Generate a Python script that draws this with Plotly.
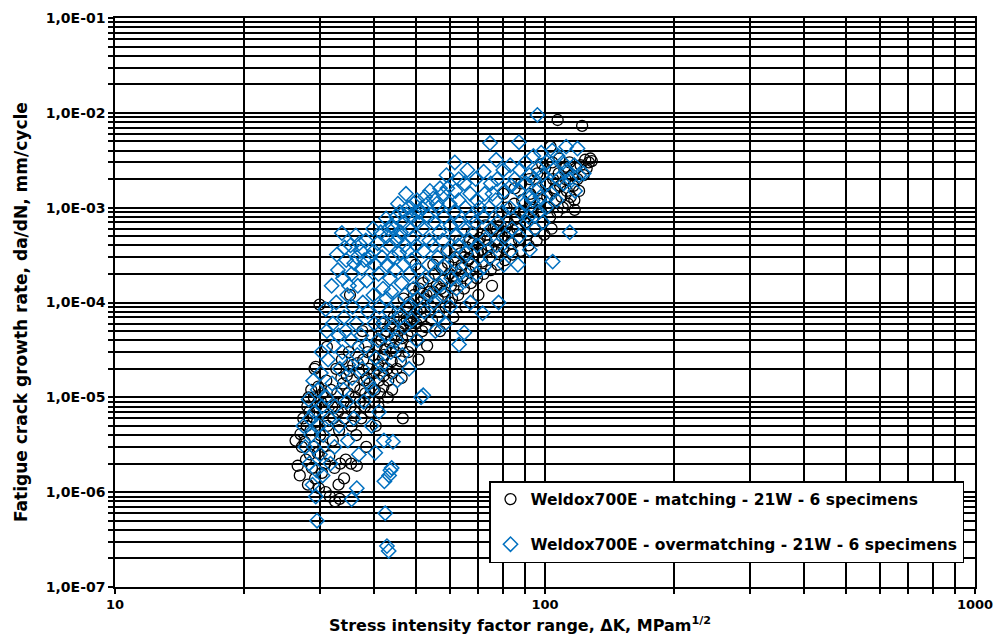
import plotly.graph_objects as go

# ---- Weldox700E matching (black circles) ----
matching_dk = [
    26.3, 26.6, 27.0, 27.2, 26.9, 27.4,
    27.6, 27.8, 28.0, 27.9, 28.2, 28.1,
    28.3, 28.5, 28.4, 28.7, 28.6, 28.9,
    29.0, 29.2, 29.1, 29.3, 29.0, 29.4,
    29.5, 29.6, 29.8, 29.9, 29.7, 30.1,
    30.0, 30.3, 30.4, 30.6, 30.5, 30.8,
    30.9, 31.1, 31.0, 31.3, 31.2, 31.5,
    31.6, 31.8, 32.0, 32.2, 32.1, 32.4,
    32.5, 32.7, 32.9, 33.0, 33.2, 33.1,
    33.4, 33.3, 33.7, 33.9, 34.0, 34.2,
    34.1, 34.4, 34.6, 35.0, 35.2, 34.9,
    35.3, 35.5, 35.4, 35.8, 36.0, 36.2,
    36.1, 36.5, 36.4, 36.8, 37.0, 37.2,
    37.1, 37.4, 37.6, 37.8, 38.0, 38.2,
    38.1, 38.4, 38.7, 38.9, 39.1, 39.0,
    39.3, 39.5, 39.8, 40.0, 40.2, 40.1,
    40.4, 40.6, 40.9, 41.1, 41.3, 41.0,
    41.6, 41.8, 42.0, 42.2, 42.1, 42.5,
    42.8, 43.0, 43.2, 43.1, 43.5, 43.7,
    44.0, 44.2, 44.1, 44.5, 44.7, 45.0,
    45.2, 45.4, 45.7, 46.0, 46.2, 46.4,
    46.7, 46.9, 47.1, 47.5, 47.7, 47.9,
    48.1, 48.3, 48.6, 48.8, 49.0, 49.3,
    49.6, 50.0, 50.3, 50.2, 50.5, 50.8,
    51.0, 51.3, 51.5, 51.8, 52.0, 52.3,
    52.5, 52.8, 53.2, 53.6, 54.0, 54.3,
    54.6, 55.0, 55.5, 56.0, 56.3, 56.7,
    57.0, 57.5, 58.0, 58.3, 58.7, 59.0,
    59.5, 60.0, 60.4, 60.8, 61.2, 61.6,
    62.0, 62.4, 62.8, 63.2, 63.6, 64.0,
    64.4, 64.8, 65.3, 65.8, 66.3, 66.8,
    67.2, 67.6, 68.0, 68.5, 69.0, 69.5,
    70.0, 70.5, 71.0, 71.5, 72.0, 72.6,
    73.2, 73.8, 74.3, 74.8, 75.3, 75.9,
    76.5, 77.0, 77.6, 78.2, 78.8, 79.4,
    80.0, 80.7, 81.4, 82.0, 82.7, 83.4,
    84.0, 84.8, 85.5, 86.2, 87.0, 87.8,
    88.5, 89.3, 90.0, 90.8, 91.6, 92.4,
    93.2, 94.0, 94.8, 95.6, 96.4, 97.2,
    98.0, 98.8, 99.6, 100.4, 101.2, 102.0,
    102.8, 103.0, 103.6, 104.4, 105.2, 106.0,
    106.8, 107.0, 107.6, 108.4, 109.2, 110.0,
    110.8, 111.6, 112.4, 113.2, 114.0, 114.8,
    115.6, 116.4, 117.2, 118.0, 119.0, 120.0,
    121.0, 122.0, 123.0, 124.0, 125.0, 126.5,
    127.5, 128.5, 96.0, 92.0, 88.0, 85.0,
    100.0, 104.0, 108.0, 112.0, 117.0, 98.5,
    60.0, 65.0, 70.0, 75.0, 80.0, 55.0,
    33.6, 35.1, 36.7, 38.5, 40.7, 42.3,
    44.3, 46.5, 48.5, 51.2, 53.0, 57.3,
    61.0, 63.8, 66.5, 69.8, 73.5, 77.3,
    81.0, 85.2, 89.0, 93.6, 97.8, 105.6,
]
matching_rate = [
    3.5e-6, 1.9e-6, 4.1e-6, 3.0e-6, 1.5e-6, 6.0e-6,
    3.4e-6, 2.2e-6, 8.0e-6, 5.0e-6, 1.0e-5, 1.2e-6,
    7.0e-6, 4.5e-6, 2.5e-6, 1.8e-6, 1.2e-5, 6.2e-6,
    3.0e-6, 1.4e-6, 2.0e-5, 2.1e-5, 1.0e-5, 8.0e-6,
    5.5e-6, 2.6e-6, 1.1e-6, 9.5e-5, 1.3e-5, 9.0e-6,
    4.0e-6, 1.6e-6, 1.1e-5, 7.0e-6, 3.0e-6, 2.0e-6,
    1.0e-6, 3.4e-5, 1.5e-5, 9.0e-6, 5.0e-6, 2.4e-6,
    9.0e-7, 1.2e-5, 8.0e-6, 6.0e-6, 3.5e-6, 1.8e-6,
    8.0e-7, 2.0e-5, 1.1e-5, 7.0e-6, 4.5e-6, 1.2e-6,
    2.0e-6, 8.5e-7, 2.5e-5, 1.4e-5, 9.0e-6, 6.0e-6,
    1.4e-6, 2.2e-6, 1.7e-5, 3.0e-5, 1.2e-4, 1.1e-5,
    8.0e-6, 5.0e-6, 2.0e-6, 2.2e-5, 1.3e-5, 1.0e-5,
    7.0e-6, 1.9e-6, 4.0e-6, 3.4e-5, 1.8e-5, 1.2e-5,
    9.0e-6, 6.0e-6, 5.0e-5, 2.5e-5, 1.5e-5, 1.1e-5,
    8.0e-6, 3.0e-6, 3.0e-5, 2.0e-5, 1.4e-5, 1.0e-5,
    7.0e-6, 4.5e-5, 2.8e-5, 1.8e-5, 1.2e-5, 9.0e-6,
    5.0e-6, 3.5e-5, 2.2e-5, 1.5e-5, 1.1e-5, 8.0e-6,
    4.0e-5, 6.0e-5, 2.6e-5, 1.7e-5, 1.3e-5, 3.2e-5,
    5.0e-5, 2.0e-5, 1.5e-5, 1.0e-5, 3.8e-5, 6.0e-5,
    2.4e-5, 1.8e-5, 1.2e-5, 7.0e-5, 4.5e-5, 3.0e-5,
    2.0e-5, 8.0e-5, 5.0e-5, 3.5e-5, 2.4e-5, 1.6e-5,
    6.0e-6, 1.1e-4, 6.0e-5, 9.0e-5, 6.5e-5, 4.5e-5,
    3.0e-5, 1.0e-4, 7.0e-5, 5.0e-5, 3.5e-5, 1.4e-4,
    1.2e-4, 2.5e-4, 8.0e-5, 6.0e-5, 4.0e-5, 2.5e-5,
    1.4e-4, 1.0e-4, 7.0e-5, 5.0e-5, 1.6e-4, 1.1e-4,
    8.0e-5, 5.5e-5, 3.5e-5, 1.8e-4, 1.3e-4, 9.0e-5,
    6.5e-5, 2.5e-4, 2.0e-4, 1.5e-4, 1.1e-4, 8.0e-5,
    5.0e-5, 2.3e-4, 1.7e-4, 1.3e-4, 9.0e-5, 3.5e-4,
    2.6e-4, 2.0e-4, 1.5e-4, 1.1e-4, 7.0e-5, 3.0e-4,
    2.2e-4, 1.7e-4, 1.2e-4, 4.5e-4, 3.3e-4, 2.5e-4,
    1.9e-4, 1.4e-4, 9.0e-5, 3.8e-4, 2.8e-4, 2.1e-4,
    1.6e-4, 5.5e-4, 4.2e-4, 3.2e-4, 2.4e-4, 1.8e-4,
    1.2e-4, 4.8e-4, 3.6e-4, 2.7e-4, 2.0e-4, 6.5e-4,
    5.2e-4, 4.0e-4, 3.0e-4, 2.2e-4, 1.5e-4, 6.0e-4,
    4.5e-4, 3.4e-4, 2.5e-4, 8.0e-4, 6.5e-4, 5.0e-4,
    3.8e-4, 2.8e-4, 1.0e-3, 7.0e-4, 5.5e-4, 4.2e-4,
    3.2e-4, 1.1e-3, 8.0e-4, 6.0e-4, 4.6e-4, 3.5e-4,
    1.2e-3, 9.0e-4, 7.0e-4, 5.2e-4, 4.0e-4, 1.4e-3,
    1.0e-3, 8.0e-4, 6.0e-4, 4.5e-4, 1.6e-3, 1.1e-3,
    9.0e-4, 7.0e-4, 5.2e-4, 1.8e-3, 1.3e-3, 1.0e-3,
    8.0e-4, 4.4e-3, 6.0e-4, 2.0e-3, 1.5e-3, 1.2e-3,
    9.0e-4, 8.4e-3, 2.3e-3, 1.7e-3, 1.3e-3, 1.0e-3,
    2.6e-3, 2.0e-3, 1.5e-3, 1.1e-3, 3.0e-3, 1.3e-3,
    2.2e-3, 1.7e-3, 9.5e-4, 2.6e-3, 2.0e-3, 1.5e-3,
    2.8e-3, 7.3e-3, 2.2e-3, 3.2e-3, 2.6e-3, 3.0e-3,
    3.3e-3, 3.1e-3, 2.3e-3, 2.0e-3, 1.8e-3, 1.6e-3,
    2.6e-3, 3.0e-3, 3.3e-3, 2.7e-3, 1.2e-3, 2.9e-3,
    1.0e-4, 3.0e-4, 4.2e-4, 3.8e-4, 1.4e-3, 1.3e-4,
    1.6e-5, 1.9e-5, 2.3e-5, 1.6e-5, 2.0e-5, 2.8e-5,
    3.3e-5, 4.2e-5, 6.0e-5, 8.5e-5, 1.2e-4, 1.4e-4,
    1.9e-4, 2.3e-4, 2.9e-4, 3.4e-4, 3.6e-4, 5.8e-4,
    6.2e-4, 7.5e-4, 8.5e-4, 9.5e-4, 1.2e-3, 1.6e-3,
]

# ---- Weldox700E overmatching (blue diamonds) ----
over_dk = [
    27.4, 27.7, 28.2, 28.4, 28.6, 28.3,
    28.8, 28.9, 29.1, 29.0, 29.3, 29.5,
    29.4, 29.6, 29.8, 30.0, 30.2, 30.1,
    30.3, 30.5, 30.4, 30.9, 31.1, 31.3,
    31.0, 31.5, 31.7, 31.9, 32.1, 32.3,
    32.0, 32.5, 32.4, 32.8, 33.0, 32.7,
    33.1, 33.3, 33.2, 33.7, 33.9, 34.1,
    33.8, 34.0, 34.5, 34.7, 34.4, 34.9,
    34.6, 34.8, 35.3, 35.5, 35.7, 35.4,
    35.6, 35.5, 35.9, 36.3, 36.5, 36.7,
    36.4, 36.6, 36.5, 36.9, 37.3, 37.5,
    37.7, 37.4, 37.6, 37.9, 38.3, 38.5,
    38.7, 38.4, 38.9, 39.5, 39.8, 40.0,
    40.2, 39.9, 40.1, 40.4, 39.7, 40.3,
    40.8, 41.0, 41.2, 40.9, 41.3, 41.1,
    41.8, 42.0, 42.1, 41.9, 42.3, 42.2,
    42.7, 42.9, 43.0, 42.8, 42.6, 42.5,
    42.9, 43.3, 43.5, 43.6, 43.4, 43.8,
    43.4, 43.7, 44.0, 44.2, 43.9, 44.1,
    44.3, 44.0, 45.0, 45.2, 44.8, 45.4,
    45.1, 45.3, 46.0, 46.2, 45.8, 46.4,
    46.1, 46.6, 47.0, 47.2, 46.9, 47.3,
    47.1, 48.0, 48.2, 47.9, 48.4, 48.1,
    48.3, 49.0, 49.2, 48.9, 49.4, 49.1,
    50.4, 50.6, 50.2, 50.8, 50.5, 50.3,
    51.8, 52.0, 52.2, 51.9, 52.4, 52.1,
    53.3, 53.5, 53.8, 53.6, 54.0, 51.5,
    55.0, 55.2, 54.8, 55.4, 55.1, 55.6,
    56.5, 56.8, 56.3, 57.0, 56.6, 58.0,
    58.2, 57.8, 58.4, 58.1, 58.6, 60.0,
    60.3, 59.8, 60.5, 60.2, 61.7, 61.9,
    61.5, 62.0, 61.8, 62.2, 63.0, 63.3,
    62.8, 63.5, 63.1, 65.0, 65.3, 64.8,
    65.5, 65.2, 64.9, 67.0, 67.3, 66.8,
    67.5, 67.1, 69.0, 69.4, 68.8, 69.6,
    69.2, 72.0, 72.4, 71.8, 72.6, 72.2,
    71.6, 74.5, 74.8, 74.2, 75.0, 74.6,
    77.0, 77.4, 76.8, 77.6, 77.2, 78.0,
    80.0, 80.5, 79.6, 80.8, 80.2, 83.0,
    83.5, 82.8, 83.8, 83.2, 87.0, 87.4,
    86.8, 87.6, 87.2, 86.5, 90.0, 90.4,
    89.6, 90.8, 92.0, 92.4, 91.6, 92.2,
    94.0, 94.4, 93.6, 94.8, 96.0, 96.4,
    95.6, 96.8, 98.0, 98.5, 97.6, 98.8,
    101.0, 101.5, 100.6, 104.0, 104.5, 103.5,
    104.2, 107.0, 107.5, 106.5, 110.0, 110.5,
    112.0, 112.5, 114.0, 114.2, 117.0, 117.5,
    120.0, 123.0, 119.0, 70.5, 75.5, 85.0,
    63.0, 57.0, 51.0, 45.5, 38.0, 35.0,
    49.5, 54.0, 59.0, 66.0, 44.5, 47.5,
    34.2, 36.0, 37.0, 39.2, 41.5, 43.2,
    45.7, 47.6, 50.0, 52.6, 56.0, 59.3,
]
over_rate = [
    5.0e-6, 3.0e-6, 9.5e-6, 6.0e-6, 4.0e-6, 2.0e-6,
    1.2e-6, 1.5e-5, 7.0e-6, 3.0e-6, 9.0e-7, 5.0e-7,
    1.7e-6, 1.2e-5, 5.0e-6, 2.5e-6, 3.0e-5, 1.8e-5,
    8.0e-6, 4.0e-6, 1.5e-6, 8.5e-5, 5.0e-5, 2.5e-5,
    1.0e-5, 6.0e-6, 2.0e-6, 1.5e-4, 6.0e-5, 3.5e-5,
    1.4e-5, 8.0e-6, 3.0e-6, 3.2e-4, 2.2e-4, 1.0e-4,
    4.5e-5, 2.0e-5, 5.0e-6, 5.4e-4, 1.8e-4, 7.0e-5,
    3.0e-5, 1.2e-5, 2.8e-4, 1.2e-4, 5.0e-5, 2.2e-5,
    9.0e-6, 3.5e-6, 4.0e-4, 2.0e-4, 9.0e-5, 4.0e-5,
    1.6e-5, 8.4e-7, 6.0e-6, 5.1e-4, 3.0e-4, 1.5e-4,
    6.0e-5, 2.8e-5, 1.1e-6, 2.5e-6, 3.5e-4, 2.3e-4,
    1.0e-4, 4.5e-5, 2.0e-5, 9.0e-6, 4.5e-4, 1.7e-4,
    8.0e-5, 3.5e-5, 1.4e-5, 5.0e-6, 6.0e-4, 3.5e-4,
    2.5e-4, 1.2e-4, 6.0e-5, 2.6e-5, 1.2e-5, 2.6e-6,
    4.2e-4, 2.0e-4, 9.0e-5, 4.0e-5, 1.8e-5, 7.0e-6,
    3.0e-4, 1.4e-4, 6.0e-5, 2.2e-5, 1.3e-6, 3.5e-6,
    7.7e-4, 5.0e-4, 2.5e-4, 1.1e-4, 4.5e-5, 6.0e-7,
    2.7e-7, 2.4e-7, 4.0e-4, 1.8e-4, 8.0e-5, 3.0e-5,
    1.5e-6, 1.7e-6, 6.5e-4, 3.0e-4, 1.3e-4, 5.5e-5,
    3.4e-6, 1.8e-6, 8.0e-4, 4.5e-4, 2.2e-4, 1.0e-4,
    4.0e-5, 1.5e-5, 9.0e-4, 5.5e-4, 3.3e-4, 1.6e-4,
    7.0e-5, 2.8e-5, 7.0e-4, 4.0e-4, 2.5e-4, 1.2e-4,
    5.5e-5, 1.0e-3, 6.0e-4, 3.5e-4, 2.0e-4, 9.0e-5,
    2.0e-5, 8.0e-4, 4.8e-4, 2.8e-4, 1.4e-4, 6.5e-5,
    1.2e-3, 7.0e-4, 4.0e-4, 2.2e-4, 1.1e-4, 4.0e-5,
    1.0e-3, 6.0e-4, 3.5e-4, 1.7e-4, 8.0e-5, 1.05e-5,
    1.1e-3, 8.0e-4, 4.5e-4, 2.5e-4, 1.2e-4, 1.0e-5,
    1.25e-3, 7.0e-4, 4.0e-4, 2.0e-4, 1.0e-4, 5.0e-5,
    1.0e-3, 5.5e-4, 3.0e-4, 1.5e-4, 7.0e-5, 1.4e-3,
    8.0e-4, 4.5e-4, 2.4e-4, 1.2e-4, 6.0e-5, 1.1e-3,
    6.5e-4, 3.5e-4, 1.8e-4, 9.0e-5, 3.0e-3, 1.5e-3,
    9.0e-4, 5.0e-4, 2.7e-4, 1.4e-4, 1.2e-3, 7.0e-4,
    4.0e-4, 2.0e-4, 3.6e-5, 1.8e-3, 1.0e-3, 6.0e-4,
    3.3e-4, 1.7e-4, 4.8e-5, 1.4e-3, 8.0e-4, 4.5e-4,
    2.5e-4, 1.0e-4, 2.0e-3, 1.2e-3, 7.0e-4, 4.0e-4,
    2.0e-4, 2.4e-3, 1.4e-3, 8.0e-4, 4.6e-4, 2.4e-4,
    7.7e-5, 4.8e-3, 1.8e-3, 1.0e-3, 6.0e-4, 3.0e-4,
    3.2e-3, 2.0e-3, 1.2e-3, 7.0e-4, 4.0e-4, 1.0e-4,
    2.5e-3, 1.5e-3, 9.0e-4, 5.0e-4, 2.5e-4, 2.8e-3,
    1.7e-3, 1.0e-3, 6.0e-4, 3.5e-4, 4.9e-3, 2.5e-3,
    1.5e-3, 9.0e-4, 5.0e-4, 2.5e-4, 3.0e-3, 1.8e-3,
    1.1e-3, 7.0e-4, 2.2e-3, 1.3e-3, 8.0e-4, 3.6e-4,
    3.5e-3, 2.0e-3, 1.2e-3, 6.0e-4, 9.5e-3, 2.6e-3,
    1.5e-3, 9.0e-4, 3.8e-3, 2.2e-3, 1.3e-3, 7.0e-4,
    3.0e-3, 1.8e-3, 1.0e-3, 4.0e-3, 2.5e-3, 1.4e-3,
    2.7e-4, 3.5e-3, 2.0e-3, 1.2e-3, 3.0e-3, 1.8e-3,
    4.4e-3, 2.5e-3, 2.0e-3, 5.5e-4, 2.8e-3, 1.5e-3,
    2.2e-3, 2.3e-3, 4.2e-3, 1.0e-3, 1.4e-3, 2.0e-3,
    2.0e-3, 1.6e-3, 9.0e-4, 1.1e-3, 2.8e-4, 1.5e-4,
    1.1e-3, 1.5e-3, 2.2e-3, 2.5e-3, 6.0e-4, 1.4e-3,
    3.8e-4, 2.6e-4, 4.2e-4, 3.0e-4, 5.5e-4, 6.0e-4,
    5.0e-4, 8.5e-4, 9.0e-4, 1.3e-3, 1.1e-3, 1.6e-3,
]

series_names = [
    "Weldox700E - matching - 21W - 6 specimens",
    "Weldox700E - overmatching - 21W - 6 specimens",
]
x_title = "Stress intensity factor range, ΔK, MPam<sup>1/2</sup>"
y_title = "Fatigue crack growth rate, da/dN, mm/cycle"

x_tickvals = [10, 100, 1000]
x_ticktext = ["10", "100", "1000"]
y_tickvals = [1e-7, 1e-6, 1e-5, 1e-4, 1e-3, 1e-2, 1e-1]
y_ticktext = ["1,0E-07", "1,0E-06", "1,0E-05", "1,0E-04", "1,0E-03", "1,0E-02", "1,0E-01"]

x_minor = [m * 10 ** e for e in (1, 2) for m in range(2, 10)]
y_minor = [m * 10.0 ** e for e in range(-7, -1) for m in range(2, 10)]

FONT = "DejaVu Sans, Liberation Sans, Arial, sans-serif"
BLUE = "#0070C0"

L, R, T, B = 115, 30, 18, 49
W, H = 1005, 636
PW = W - L - R
PH = H - T - B

fig = go.Figure()
fig.add_trace(go.Scatter(
    x=matching_dk, y=matching_rate, mode="markers", name=series_names[0],
    legendgroup="a",
    marker=dict(symbol="circle-open", size=11, color="black", line=dict(width=1.3, color="black")),
))
fig.add_trace(go.Scatter(
    x=over_dk, y=over_rate, mode="markers", name=series_names[1],
    legendgroup="b",
    marker=dict(symbol="diamond-open", size=11, color=BLUE, line=dict(width=1.5, color=BLUE)),
))

axis_common = dict(
    showline=True, linecolor="black", linewidth=1.5, mirror=True,
    showgrid=True, gridcolor="black", gridwidth=2,
    ticks="outside", ticklen=5, tickcolor="black", tickwidth=1.5,
    zeroline=False, automargin=False,
)

fig.update_xaxes(
    type="log", range=[1, 3],
    tickmode="array", tickvals=x_tickvals, ticktext=x_ticktext,
    tickfont=dict(family=FONT, size=13, color="black", weight="bold"),
    minor=dict(tickmode="array", tickvals=x_minor, showgrid=True, gridcolor="black",
               gridwidth=2, ticks="outside", ticklen=5, tickcolor="black", tickwidth=1.5),
    **axis_common,
)
fig.update_yaxes(
    type="log", range=[-7, -1],
    tickmode="array", tickvals=y_tickvals, ticktext=y_ticktext,
    tickfont=dict(family=FONT, size=14, color="black", weight="bold"),
    minor=dict(tickmode="array", tickvals=y_minor, showgrid=True, gridcolor="black",
               gridwidth=2, ticks="outside", ticklen=5, tickcolor="black", tickwidth=1.5),
    **axis_common,
)

fig.add_annotation(
    text=x_title, xref="paper", yref="paper",
    x=(520 - L) / PW, y=-(624 - (H - B)) / PH,
    xanchor="center", yanchor="middle", showarrow=False,
    font=dict(family=FONT, size=16, color="black", weight="bold"),
)
fig.add_annotation(
    text=y_title, xref="paper", yref="paper",
    x=-(L - 21) / PW, y=(H - B - 312) / PH, textangle=-90,
    xanchor="center", yanchor="middle", showarrow=False,
    font=dict(family=FONT, size=17, color="black", weight="bold"),
)

fig.update_layout(
    width=W, height=H,
    margin=dict(l=L, r=R, t=T, b=B),
    paper_bgcolor="white", plot_bgcolor="white",
    font=dict(family=FONT, color="black"),
    showlegend=True,
    legend=dict(
        x=(489 - L) / PW, y=(H - B - 481) / PH, xanchor="left", yanchor="top",
        bgcolor="white", bordercolor="black", borderwidth=1.5,
        font=dict(family=FONT, size=15.5, color="black", weight="bold"),
        traceorder="grouped", tracegroupgap=22, itemwidth=30,
    ),
)

fig.write_html(
    "out.html",
    config={"displayModeBar": False},
    post_script="document.body.style.margin='0';document.body.style.padding='0';",
)
